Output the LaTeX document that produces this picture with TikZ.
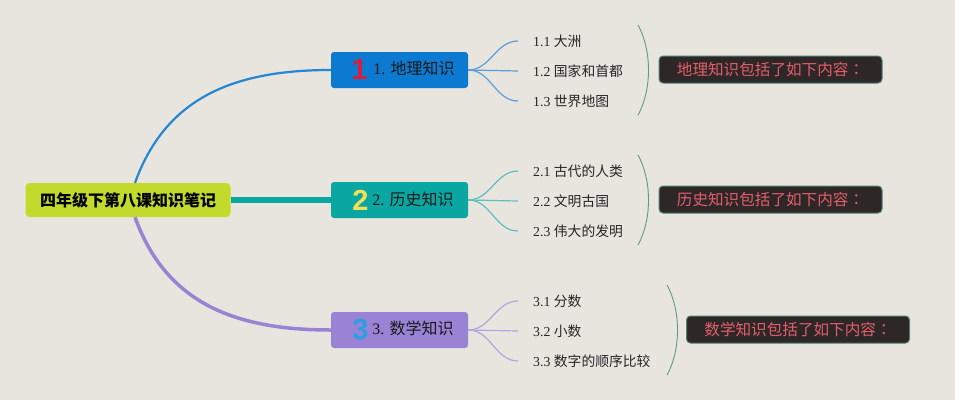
\documentclass[tikz,border=0pt]{standalone}
\usepackage{fontspec}
\setmainfont{Liberation Serif}
\newfontfamily\cjk{Noto Sans CJK SC}
\newfontfamily\cjkcolon{Noto Sans CJK TC}
\newfontfamily\numfont{Liberation Sans}

\definecolor{bgcol}{HTML}{E8E5DE}
\definecolor{rootcol}{HTML}{C3DA2C}
\definecolor{geocol}{HTML}{0B7AD0}
\definecolor{histcol}{HTML}{0AA6A2}
\definecolor{mathcol}{HTML}{9A82D4}
\definecolor{geoline}{HTML}{5A9ED8}
\definecolor{histline}{HTML}{5EBFBE}
\definecolor{mathline}{HTML}{B2A5E2}
\definecolor{bracketcol}{HTML}{5E9A84}
\definecolor{sumfill}{HTML}{2E2727}
\definecolor{sumborder}{HTML}{4F8070}
\definecolor{sumtext}{HTML}{E35E6C}
\definecolor{numred}{HTML}{D81E3C}
\definecolor{numyellow}{HTML}{F0E256}
\definecolor{numblue}{HTML}{2A9FE2}

\newcommand{\bignum}[2]{\hspace*{7pt}\raisebox{-5pt}{\numfont\bfseries\fontsize{29}{29}\selectfont\color{#1}#2}}

\begin{document}
\begin{tikzpicture}[x=1pt, y=-1pt]

\tikzstyle{rootbox} = [fill=rootcol, rounded corners=4pt, minimum width=205pt, minimum height=34pt, inner sep=0pt, font=\cjk\bfseries\fontsize{16}{18}\selectfont]
\tikzstyle{topicbox} = [rounded corners=3pt, minimum width=137pt, minimum height=36pt, inner sep=0pt, text=black!90, font=\fontsize{16}{18}\selectfont]
\tikzstyle{subtopic} = [anchor=west, inner xsep=15pt, inner ysep=0pt, text=black!85, font=\fontsize{13.8}{15}\selectfont]
\tikzstyle{summary} = [draw=sumborder, line width=1pt, fill=sumfill, rounded corners=4pt, minimum width=223pt, minimum height=27pt, inner sep=0pt, text=sumtext, font=\cjk\fontsize{15.6}{17}\selectfont]
\tikzstyle{bracket} = [draw=bracketcol, line width=0.9pt]
\tikzstyle{subline} = [line width=1.2pt]

% --- background
\fill[bgcol] (0, 0) rectangle (955, 400);

% --- 中心主题
\node[rootbox] (root) at (128, 200) {四年级下第八课知识笔记};

% --- 分支主题
\node[topicbox, fill=geocol] (geo) at (399.5, 70) {\bignum{numred}{1}\hspace{6pt}1. {\cjk 地理知识}};
\node[topicbox, fill=histcol] (hist) at (399.5, 200) {\bignum{numyellow}{2}\hspace{4pt}2. {\cjk 历史知识}};
\node[topicbox, fill=mathcol] (math) at (399.5, 330) {\bignum{numblue}{3}\hspace{4pt}3. {\cjk 数学知识}};

% --- 主干连线
\draw[geocol!90, line width=2.2pt] (root.north) ++(7, 0) .. controls (165, 100) and (230, 70) .. (geo.west);
\draw[histcol, line width=6pt] (root.east) -- (hist.west);
\draw[mathcol, line width=3.5pt] (root.south) ++(7, 0) .. controls (165, 300) and (230, 330) .. (math.west);

% --- 地理知识
\node[subtopic] (g1) at (518, 41) {1.1 \cjk 大洲};
\node[subtopic] (g2) at (518, 71) {1.2 \cjk 国家和首都};
\node[subtopic] (g3) at (518, 101) {1.3 \cjk 世界地图};

\draw[subline, geoline] (geo.east) to[out=0, in=180] (g1.west);
\draw[subline, geoline] (geo.east) -- (g2.west);
\draw[subline, geoline] (geo.east) to[out=0, in=180] (g3.west);

\draw[bracket] (638, 25) .. controls (652, 50) and (652, 90) .. (638, 115);
\node[summary] (geosum) at (770.5, 69.5) {地理知识包括了如下内容{\cjkcolon ：}};

% --- 历史知识
\node[subtopic] (h1) at (518, 171) {2.1 \cjk 古代的人类};
\node[subtopic] (h2) at (518, 201) {2.2 \cjk 文明古国};
\node[subtopic] (h3) at (518, 231) {2.3 \cjk 伟大的发明};

\draw[subline, histline] (hist.east) to[out=0, in=180] (h1.west);
\draw[subline, histline] (hist.east) -- (h2.west);
\draw[subline, histline] (hist.east) to[out=0, in=180] (h3.west);

\draw[bracket] (638, 155) .. controls (652, 180) and (652, 220) .. (638, 245);
\node[summary] (histsum) at (770.5, 199.5) {历史知识包括了如下内容{\cjkcolon ：}};

% --- 数学知识
\node[subtopic] (m1) at (518, 301) {3.1 \cjk 分数};
\node[subtopic] (m2) at (518, 331) {3.2 \cjk 小数};
\node[subtopic] (m3) at (518, 361) {3.3 \cjk 数字的顺序比较};

\draw[subline, mathline] (math.east) to[out=0, in=180] (m1.west);
\draw[subline, mathline] (math.east) -- (m2.west);
\draw[subline, mathline] (math.east) to[out=0, in=180] (m3.west);

\draw[bracket] (667, 285) .. controls (681, 310) and (681, 350) .. (667, 375);
\node[summary] (mathsum) at (798, 329.5) {数学知识包括了如下内容{\cjkcolon ：}};

\end{tikzpicture}
\end{document}
